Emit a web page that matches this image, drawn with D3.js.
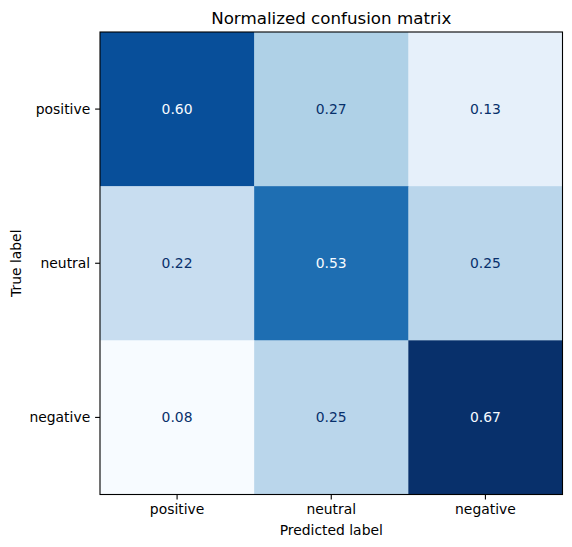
<!DOCTYPE html>
<html><head><meta charset="utf-8">
<script src="https://cdn.jsdelivr.net/npm/d3@7"></script>
<style>body{margin:0;background:#fff;} text{font-family:"DejaVu Sans",sans-serif;}</style>
</head><body>
<svg id="c" width="572" height="547"></svg>
<script>
const trueLabels = ["positive","neutral","negative"];
const predLabels = ["positive","neutral","negative"];
const row0 = [0.60,0.27,0.13];
const row1 = [0.22,0.53,0.25];
const row2 = [0.08,0.25,0.67];
const matrix = [row0,row1,row2];
const blues = ["#f7fbff","#deebf7","#c6dbef","#9ecae1","#6baed6","#4292c6","#2171b5","#08519c","#08306b"];

const svg = d3.select("#c");
const L=100, T=32, S=462.5;
const x = d3.scaleBand().domain(predLabels).range([L,L+S]);
const y = d3.scaleBand().domain(trueLabels).range([T,T+S]);
const flat = matrix.flat();
const vmin = d3.min(flat), vmax = d3.max(flat);
const norm = d3.scaleLinear().domain([vmin,vmax]).range([0,1]);
const cs = d3.scaleLinear().domain(blues.map((_,i)=>i/(blues.length-1))).range(blues).interpolate(d3.interpolateRgb);
const thresh = (vmin+vmax)/2;

const cells = [];
matrix.forEach((r,i)=>r.forEach((v,j)=>cells.push({t:trueLabels[i],p:predLabels[j],v})));
svg.selectAll("rect.cell").data(cells).enter().append("rect")
  .attr("x",d=>x(d.p)).attr("y",d=>y(d.t))
  .attr("width",x.bandwidth()+0.5).attr("height",y.bandwidth()+0.5)
  .attr("fill",d=>cs(norm(d.v)));
svg.selectAll("text.val").data(cells).enter().append("text")
  .attr("x",d=>x(d.p)+x.bandwidth()/2).attr("y",d=>y(d.t)+y.bandwidth()/2)
  .attr("text-anchor","middle").attr("dy","0.35em")
  .attr("font-size","13.9px")
  .attr("fill",d=>d.v>=thresh?blues[0]:blues[8])
  .text(d=>d.v.toFixed(2));

svg.append("rect").attr("x",L).attr("y",T).attr("width",S).attr("height",S)
  .attr("fill","none").attr("stroke","#000").attr("stroke-width",1.1);

const xa = svg.append("g").attr("transform",`translate(0,${T+S})`)
  .call(d3.axisBottom(x).tickSize(4.9).tickPadding(4.9));
const ya = svg.append("g").attr("transform",`translate(${L},0)`)
  .call(d3.axisLeft(y).tickSize(4.9).tickPadding(4.9));
[xa,ya].forEach(a=>{
  a.select(".domain").remove();
  a.selectAll(".tick line").attr("stroke","#000").attr("stroke-width",1.1);
  a.selectAll(".tick text").attr("font-size","13.9px").attr("fill","#000").attr("font-family","DejaVu Sans");
});

svg.append("text").attr("x",L+S/2).attr("y",24).attr("text-anchor","middle")
  .attr("font-size","16.7px").text("Normalized confusion matrix");
svg.append("text").attr("x",L+S/2).attr("y",535).attr("text-anchor","middle")
  .attr("font-size","13.9px").text("Predicted label");
svg.append("text").attr("transform",`translate(21,${T+S/2}) rotate(-90)`).attr("text-anchor","middle")
  .attr("font-size","13.9px").text("True label");
</script>
</body></html>
